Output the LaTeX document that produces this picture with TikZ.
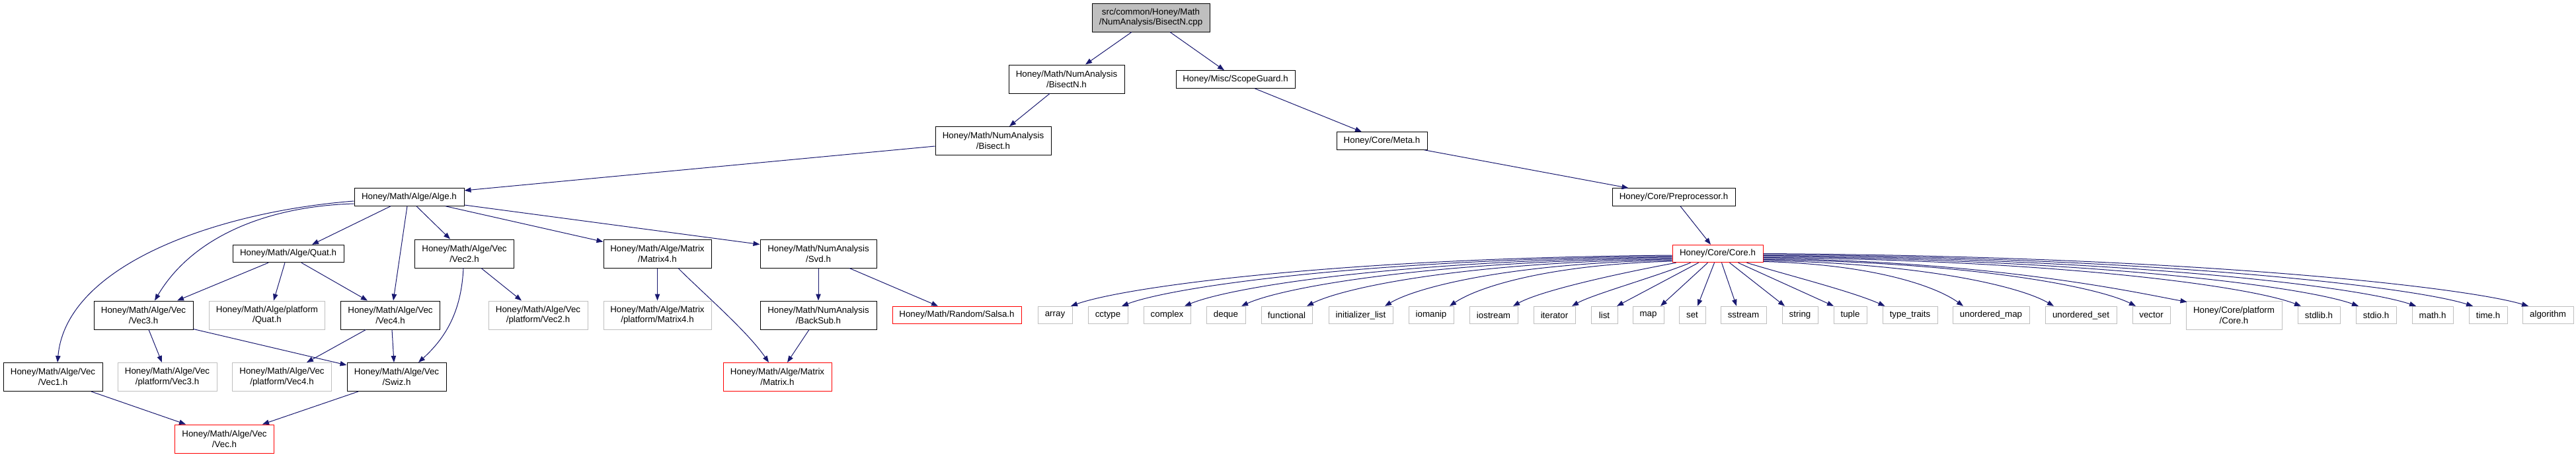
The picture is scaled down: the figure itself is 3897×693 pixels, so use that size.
\documentclass[tikz,border=0pt]{standalone}
\usepackage{fontspec}
\setmainfont{Liberation Sans}
\usetikzlibrary{arrows.meta,calc}
\definecolor{edgeblue}{HTML}{191970}
\definecolor{extgray}{HTML}{BFBFBF}
\definecolor{rootgray}{HTML}{BFBFBF}
\definecolor{truncred}{HTML}{FF0000}
\tikzset{
  nd/.style={rectangle, draw=black, line width=0.75pt, inner sep=0pt, align=center,
             font=\fontsize{10}{11.8}\selectfont, text=black},
  docnd/.style={nd},
  extnd/.style={nd, draw=extgray},
  trnd/.style={nd, draw=truncred},
  rootnd/.style={nd, fill=rootgray},
  hone/.style={minimum height=26.5*0.75pt},
  htwo/.style={minimum height=43*0.75pt},
  bw/.style={minimum width=#1*0.75pt},
  edge/.style={draw=edgeblue, line width=0.75pt, -{Triangle[length=7.5pt,width=5.6pt]}}
}
\begin{document}
\begin{tikzpicture}[x=0.75pt,y=-0.75pt]
\useasboundingbox (0,0) rectangle (3897,693);
% ---- nodes ----
\node[rootnd,htwo,bw=178] (root) at (1741,26.5) {src/common/Honey/Math\\/NumAnalysis/BisectN.cpp};
\node[docnd,htwo,bw=175] (bisectn) at (1613.5,119.5) {Honey/Math/NumAnalysis\\/BisectN.h};
\node[docnd,hone,bw=180] (scope) at (1869,120) {Honey/Misc/ScopeGuard.h};
\node[docnd,htwo,bw=175] (bisect) at (1502.5,213) {Honey/Math/NumAnalysis\\/Bisect.h};
\node[docnd,hone,bw=137] (meta) at (2090.5,213) {Honey/Core/Meta.h};
\node[docnd,hone,bw=166] (alge) at (619,298) {Honey/Math/Alge/Alge.h};
\node[docnd,hone,bw=186] (prep) at (2532,298) {Honey/Core/Preprocessor.h};
\node[docnd,hone,bw=168] (quat) at (436,383.5) {Honey/Math/Alge/Quat.h};
\node[docnd,htwo,bw=150] (vec2) at (702.5,383.5) {Honey/Math/Alge/Vec\\/Vec2.h};
\node[docnd,htwo,bw=163] (mat4) at (994.5,383.5) {Honey/Math/Alge/Matrix\\/Matrix4.h};
\node[docnd,htwo,bw=176] (svd) at (1238,383.5) {Honey/Math/NumAnalysis\\/Svd.h};
\node[trnd,hone,bw=137] (core) at (2598.5,383.5) {Honey/Core/Core.h};
\node[docnd,htwo,bw=150] (vec3) at (217,476.5) {Honey/Math/Alge/Vec\\/Vec3.h};
\node[extnd,htwo,bw=175] (pquat) at (404,476.5) {Honey/Math/Alge/platform\\/Quat.h};
\node[docnd,htwo,bw=150] (vec4) at (590.5,476.5) {Honey/Math/Alge/Vec\\/Vec4.h};
\node[extnd,htwo,bw=150] (pvec2) at (814,476.5) {Honey/Math/Alge/Vec\\/platform/Vec2.h};
\node[extnd,htwo,bw=163] (pmat4) at (994.5,476.5) {Honey/Math/Alge/Matrix\\/platform/Matrix4.h};
\node[docnd,htwo,bw=176] (backsub) at (1238,476.5) {Honey/Math/NumAnalysis\\/BackSub.h};
\node[trnd,hone,bw=195] (salsa) at (1447.5,476.5) {Honey/Math/Random/Salsa.h};
\node[docnd,htwo,bw=150] (vec1) at (80,570) {Honey/Math/Alge/Vec\\/Vec1.h};
\node[extnd,htwo,bw=150] (pvec3) at (253,570) {Honey/Math/Alge/Vec\\/platform/Vec3.h};
\node[extnd,htwo,bw=150] (pvec4) at (426.5,570) {Honey/Math/Alge/Vec\\/platform/Vec4.h};
\node[docnd,htwo,bw=150] (swiz) at (600,570) {Honey/Math/Alge/Vec\\/Swiz.h};
\node[trnd,htwo,bw=164] (matrix) at (1176,570) {Honey/Math/Alge/Matrix\\/Matrix.h};
\node[trnd,htwo,bw=150] (vec) at (339.5,663.5) {Honey/Math/Alge/Vec\\/Vec.h};
% std headers
\node[extnd,hone,bw=52] (sarray) at (1596,476.5) {array};
\node[extnd,hone,bw=60] (scctype) at (1676,476.5) {cctype};
\node[extnd,hone,bw=71] (scomplex) at (1765.5,476.5) {complex};
\node[extnd,hone,bw=59] (sdeque) at (1854.5,476.5) {deque};
\node[extnd,hone,bw=77] (sfunctional) at (1946.5,476.5) {functional};
\node[extnd,hone,bw=97] (sinitlist) at (2058.5,476.5) {initializer\_list};
\node[extnd,hone,bw=68] (siomanip) at (2165,476.5) {iomanip};
\node[extnd,hone,bw=73] (siostream) at (2259.5,476.5) {iostream};
\node[extnd,hone,bw=63] (siterator) at (2351.5,476.5) {iterator};
\node[extnd,hone,bw=40] (slist) at (2427,476.5) {list};
\node[extnd,hone,bw=47] (smap) at (2493.5,476.5) {map};
\node[extnd,hone,bw=40] (sset) at (2560,476.5) {set};
\node[extnd,hone,bw=69] (ssstream) at (2637.5,476.5) {sstream};
\node[extnd,hone,bw=54] (sstring) at (2723,476.5) {string};
\node[extnd,hone,bw=50] (stuple) at (2799,476.5) {tuple};
\node[extnd,hone,bw=83] (stypetraits) at (2889.5,476.5) {type\_traits};
\node[extnd,hone,bw=116] (sumap) at (3012,476.5) {unordered\_map};
\node[extnd,hone,bw=108] (suset) at (3148,476.5) {unordered\_set};
\node[extnd,hone,bw=57] (svector) at (3254.5,476.5) {vector};
\node[extnd,htwo,bw=145] (pcore) at (3379.5,476.5) {Honey/Core/platform\\/Core.h};
\node[extnd,hone,bw=64] (sstdlib) at (3508,476.5) {stdlib.h};
\node[extnd,hone,bw=61] (sstdio) at (3594.5,476.5) {stdio.h};
\node[extnd,hone,bw=62] (smath) at (3680,476.5) {math.h};
\node[extnd,hone,bw=58] (stime) at (3764,476.5) {time.h};
\node[extnd,hone,bw=77] (salgorithm) at (3854.5,476.5) {algorithm};
% ---- edges ----
\draw[edge] ($(root.south)+(-29,0)$) -- ($(bisectn.north)+(28.5,0)$);
\draw[edge] ($(root.south)+(29,0)$) -- ($(scope.north)+(-17,0)$);
\draw[edge] ($(bisectn.south)+(-25.5,0)$) -- ($(bisect.north)+(24.5,0)$);
\draw[edge] ($(scope.south)+(29,0)$) -- ($(meta.north)+(-30.5,0)$);
\draw[edge] ($(bisect.west)+(0,8)$) -- ($(alge.east)+(0,-10)$);
\draw[edge] ($(meta.south east)+(-5,0)$) -- ($(prep.north west)+(25,0)$);
\draw[edge] ($(prep.south)+(10,0)$) -- ($(core.north)+(-10.5,0)$);
\draw[edge] ($(alge.west)+(0,6)$) .. controls (330,320) and (100,400) .. ($(vec1.north)+(7,0)$);
\draw[edge] ($(alge.west)+(0,10)$) .. controls (400,312) and (290,360) .. ($(vec3.north)+(17,0)$);
\draw[edge] ($(alge.south)+(-28,0)$) -- ($(quat.north)+(36,0)$);
\draw[edge] ($(alge.south)+(-3,0)$) -- ($(vec4.north)+(4.5,0)$);
\draw[edge] ($(alge.south)+(11,0)$) -- ($(vec2.north)+(-21.5,0)$);
\draw[edge] ($(alge.south)+(55,0)$) -- ($(mat4.north west)+(0,4)$);
\draw[edge] ($(alge.east)+(0,12)$) -- ($(svd.north west)+(0,8)$);
\draw[edge] ($(quat.south)+(-30,0)$) -- ($(vec3.north)+(51,0)$);
\draw[edge] ($(quat.south)+(-5,0)$) -- ($(pquat.north)+(10,0)$);
\draw[edge] ($(quat.south)+(20,0)$) -- ($(vec4.north)+(-34.5,0)$);
\draw[edge] ($(vec2.south)+(25.5,0)$) -- ($(pvec2.north)+(-25,0)$);
\draw[edge] ($(vec2.south)+(-1.5,0)$) .. controls (698,470) and (675,510) .. ($(swiz.north)+(33,0)$);
\draw[edge] (mat4) -- (pmat4);
\draw[edge] ($(mat4.south)+(31.5,0)$) .. controls (1060,440) and (1130,500) .. ($(matrix.north)+(-13,0)$);
\draw[edge] (svd) -- (backsub);
\draw[edge] ($(svd.south)+(47,0)$) -- ($(salsa.north)+(-28.5,0)$);
\draw[edge] ($(backsub.south)+(-14,0)$) -- ($(matrix.north)+(15,0)$);
\draw[edge] ($(vec3.south)+(8,0)$) -- ($(pvec3.north)+(-8,0)$);
\draw[edge] ($(vec3.south east)+(0,-1)$) -- ($(swiz.north west)+(0,4)$);
\draw[edge] ($(vec4.south)+(-37,0)$) -- ($(pvec4.north)+(37.5,0)$);
\draw[edge] ($(vec4.south)+(2.5,0)$) -- ($(swiz.north)+(-4,0)$);
\draw[edge] ($(vec1.south)+(58,0)$) -- ($(vec.north)+(-58.5,0)$);
\draw[edge] ($(swiz.south)+(-58,0)$) -- ($(vec.north)+(57.5,0)$);
% Core.h fan
\draw[edge] ($(core.west)+(0,2.5)$) .. controls (2030,390) and (1704,433) .. ($(sarray.north)+(24,0)$);
\draw[edge] ($(core.west)+(0,4)$) .. controls (2072,391.5) and (1775,433) .. ($(scctype.north)+(21,0)$);
\draw[edge] ($(core.west)+(0,5.5)$) .. controls (2124,393) and (1864,433) .. ($(scomplex.north)+(26.5,0)$);
\draw[edge] ($(core.west)+(0,7)$) .. controls (2171,394.5) and (1944,433) .. ($(sdeque.north)+(23.5,0)$);
\draw[edge] ($(core.west)+(0,8.5)$) .. controls (2226,396) and (2036,433) .. ($(sfunctional.north)+(30.5,0)$);
\draw[edge] ($(core.west)+(0,10)$) .. controls (2291,397.5) and (2145,433) .. ($(sinitlist.north)+(36.5,0)$);
\draw[edge] ($(core.west)+(0,11.5)$) .. controls (2345,400) and (2237,433) .. ($(siomanip.north)+(28,0)$);
\draw[edge] ($(core.south west)+(6,0)$) .. controls (2440,415) and (2330,440) .. ($(siostream.north)+(29.5,0)$);
\draw[edge] ($(core.south)+(-41,0)$) .. controls (2500,420) and (2410,445) .. ($(siterator.north)+(26.5,0)$);
\draw[edge] ($(core.south)+(-29,0)$) -- ($(slist.north)+(19,0)$);
\draw[edge] ($(core.south)+(-15,0)$) -- ($(smap.north)+(18.5,0)$);
\draw[edge] ($(core.south)+(-5,0)$) -- ($(sset.north)+(8,0)$);
\draw[edge] ($(core.south)+(6,0)$) -- ($(ssstream.north)+(-10.5,0)$);
\draw[edge] ($(core.south)+(18,0)$) -- ($(sstring.north)+(-23,0)$);
\draw[edge] ($(core.south)+(31,0)$) -- ($(stuple.north)+(-25,0)$);
\draw[edge] ($(core.south)+(44,0)$) .. controls (2700,415) and (2800,440) .. ($(stypetraits.north)+(-38,0)$);
\draw[edge] ($(core.east)+(0,12)$) .. controls (2834,399.5) and (2929,433) .. ($(sumap.north)+(-42,0)$);
\draw[edge] ($(core.east)+(0,10.5)$) .. controls (2909,398) and (3056,433) .. ($(suset.north)+(-41,0)$);
\draw[edge] ($(core.east)+(0,9)$) .. controls (2977,396) and (3171.5,433) .. ($(svector.north)+(-23.5,0)$);
\draw[edge] ($(core.east)+(0,7.5)$) .. controls (3020,394.5) and (3240,444) .. ($(pcore.north west)+(2,2)$);
\draw[edge] ($(core.east)+(0,6)$) .. controls (3115,393) and (3404,433) .. ($(sstdlib.north)+(-27,0)$);
\draw[edge] ($(core.east)+(0,4.5)$) .. controls (3162.5,391.5) and (3485,433) .. ($(sstdio.north)+(-26.5,0)$);
\draw[edge] ($(core.east)+(0,3)$) .. controls (3210,390) and (3566,433) .. ($(smath.north)+(-25,0)$);
\draw[edge] ($(core.east)+(0,1.5)$) .. controls (3258,388.5) and (3646,433) .. ($(stime.north)+(-23,0)$);
\draw[edge] ($(core.east)+(0,0)$) .. controls (3304,387) and (3724,433) .. ($(salgorithm.north)+(-29.5,0)$);
\end{tikzpicture}
\end{document}
